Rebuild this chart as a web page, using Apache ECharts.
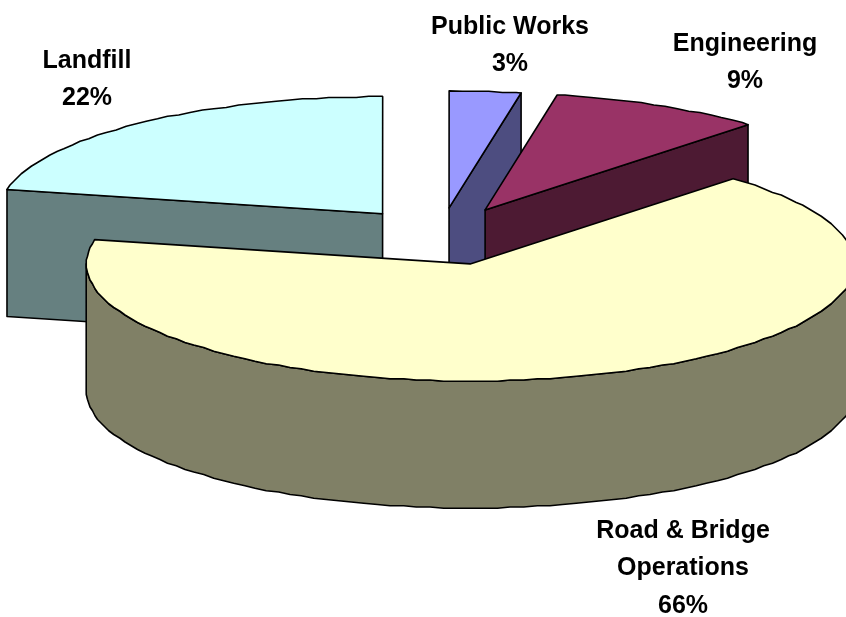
<!DOCTYPE html>
<html>
<head>
<meta charset="utf-8">
<style>html,body{margin:0;padding:0;background:#fff}#c{width:846px;height:617px}</style>
<script src="https://cdn.jsdelivr.net/npm/echarts@6/dist/echarts.min.js"></script>
</head>
<body>
<div id="c"></div>
<script>
// Paint order is back to front.
var categories = ['Landfill', 'Public Works', 'Engineering', 'Road & Bridge\nOperations'];
var shares = [21.67, 3, 9, 66.33];
var topColors = ['#CCFFFF', '#9999FF', '#993366', '#FFFFCC'];
var sideColors = ['#668080', '#4D4D80', '#4D1A33', '#808066'];
var labelCenters = [[87, 79.5], [510, 45.5], [745, 62.5], [683, 568.5]];
var sliceNudge = [[0, 0.5], [-3, 1], [-1.5, 0], [-1.5, 0]];

var CX = 443, CY = 236, RX = 384, RY = 117, DEPTH = 127, EXPLODE = 0.25;
var START_DEG = 168;   // Landfill's leading edge; slices run clockwise
var GRID = 1.25, STEP = 2; // the reference's outline is slightly stepped

function snap(v) { return Math.round(v / GRID) * GRID; }
function arc(ox, oy, hi, lo, dy) {
  // sample on fixed angles so a rim and the wall under it share their vertices
  var pts = [], angs = [hi];
  for (var d = Math.ceil(hi / STEP) * STEP - STEP; d > lo; d -= STEP) if (d < hi) angs.push(d);
  angs.push(lo);
  angs.forEach(function (deg, i) {
    var a = deg * Math.PI / 180;
    var x = ox + RX * Math.cos(a), y = oy - RY * Math.sin(a);
    var edge = i === 0 || i === angs.length - 1;
    pts.push(edge ? [x, y + dy] : [snap(x), snap(y) + dy]);
  });
  return pts;
}
function wall(ox, oy, a) {
  var r = a * Math.PI / 180, x = ox + RX * Math.cos(r), y = oy - RY * Math.sin(r);
  return [[ox, oy], [x, y], [x, y + DEPTH], [ox, oy + DEPTH]];
}
function poly(points, fill) {
  return {
    type: 'polygon', silent: true,
    shape: { points: points },
    style: { fill: fill, stroke: '#000', lineWidth: 1.6, lineJoin: 'round' }
  };
}

var total = shares.reduce(function (s, v) { return s + v; }, 0);

function renderItem(params, api) {
  var idx = params.dataIndex, before = 0;
  for (var i = 0; i < idx; i++) before += shares[i];
  var value = api.value(0);
  var hi = START_DEG - before / total * 360;
  var lo = hi - value / total * 360;
  var mid = (hi + lo) / 2 * Math.PI / 180;
  var ox = CX + EXPLODE * RX * Math.cos(mid) + sliceNudge[idx][0];
  var oy = CY - EXPLODE * RY * Math.sin(mid) + sliceNudge[idx][1];
  var side = sideColors[idx], kids = [];

  if (Math.cos(hi * Math.PI / 180) < -1e-6) kids.push(poly(wall(ox, oy, hi), side));
  if (Math.cos(lo * Math.PI / 180) > 1e-3) kids.push(poly(wall(ox, oy, lo), side));

  // outer wall: only the part of the rim facing the viewer (sin < 0)
  var a = Math.min(hi, 0), b = Math.max(lo, -180);
  if (a > b) {
    var top = arc(ox, oy, a, b, 0), bottom = arc(ox, oy, a, b, DEPTH).reverse();
    kids.push(poly(top.concat(bottom), side));
  }

  kids.push(poly([[ox, oy]].concat(arc(ox, oy, hi, lo, 0)), topColors[idx]));

  kids.push({
    type: 'text', silent: true, z2: 10,
    style: {
      text: categories[idx] + '\n' + Math.round(value) + '%',
      x: labelCenters[idx][0], y: labelCenters[idx][1],
      align: 'center', verticalAlign: 'middle',
      fontFamily: '"Liberation Sans", Arial, sans-serif',
      fontWeight: 'bold', fontSize: 25, lineHeight: 37.5, fill: '#000'
    }
  });
  return { type: 'group', children: kids };
}

var chart = echarts.init(document.getElementById('c'), null, { renderer: 'canvas' });
chart.setOption({
  animation: false,
  backgroundColor: '#fff',
  series: [{
    type: 'custom',
    coordinateSystem: 'none',
    renderItem: renderItem,
    clip: false,
    data: shares.map(function (v, i) { return { name: categories[i], value: [v] }; })
  }]
});
</script>
</body>
</html>
